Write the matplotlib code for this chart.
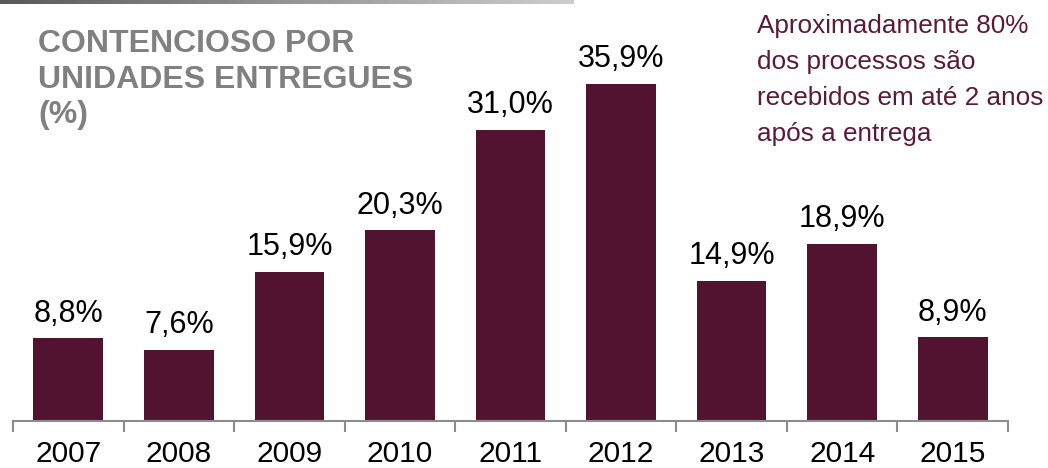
import numpy as np
import matplotlib.pyplot as plt
from matplotlib.collections import LineCollection

plt.rcParams["font.family"] = ["Liberation Sans", "DejaVu Sans"]

years = ["2007", "2008", "2009", "2010", "2011", "2012", "2013", "2014", "2015"]
share = [8.8, 7.6, 15.9, 20.3, 31.0, 35.9, 14.9, 18.9, 8.9]
labels = ["8,8%", "7,6%", "15,9%", "20,3%", "31,0%", "35,9%", "14,9%", "18,9%", "8,9%"]

title = "CONTENCIOSO POR\nUNIDADES ENTREGUES\n(%)"
note = "Aproximadamente 80%\ndos processos são\nrecebidos em até 2 anos\napós a entrega"

BAR = "#521330"
NOTE = "#5c1a3a"
GREY_TXT = "#808080"
AXIS = "#8c8c8c"

W, H = 1048, 468
fig = plt.figure(figsize=(W / 100, H / 100), dpi=100)
ax = fig.add_axes([13 / W, (H - 421) / H, 995 / W, 375.6 / H])

x = np.arange(len(years))
ax.bar(x, share, width=0.63, color=BAR)
for xi, v, lab in zip(x, share, labels):
    ax.annotate(lab, (xi, v), xytext=(0, 7), textcoords="offset points",
                ha="center", va="bottom", fontsize=22, color="black")

ax.set_xlim(-0.5, len(years) - 0.5)
ax.set_ylim(0, 40)
ax.set_yticks([])
for s in ("top", "right", "left"):
    ax.spines[s].set_visible(False)
ax.spines["bottom"].set_color(AXIS)
ax.spines["bottom"].set_linewidth(1.5)

# year labels centred under bars, tick marks on the category boundaries
ax.set_xticks(x)
ax.set_xticklabels(years, fontsize=21.5)
ax.tick_params(axis="x", which="major", length=0, pad=14)
ax.set_xticks(np.arange(-0.5, len(years)), minor=True)
ax.tick_params(axis="x", which="minor", length=8, width=1.5, color=AXIS)

fig.text(38 / W, 1 - 29 / H, title, ha="left", va="top", fontsize=23,
         fontweight="bold", color=GREY_TXT, linespacing=1.25)
fig.text(757 / W, 1 - 14 / H, note, ha="left", va="top", fontsize=18.8,
         color=NOTE, linespacing=1.63)

# thin fading rule along the top edge
n = 60
xs = np.linspace(0, 572 / W, n + 1)
segs = [[(xs[i], 1 - 1.5 / H), (xs[i + 1], 1 - 1.5 / H)] for i in range(n)]
shades = np.linspace(0.35, 0.8, n)
lc = LineCollection(segs, colors=[(s, s, s) for s in shades], linewidths=1.6,
                    capstyle="projecting", antialiased=False,
                    transform=fig.transFigure)
fig.add_artist(lc)

fig.savefig("out.png", dpi=100)
